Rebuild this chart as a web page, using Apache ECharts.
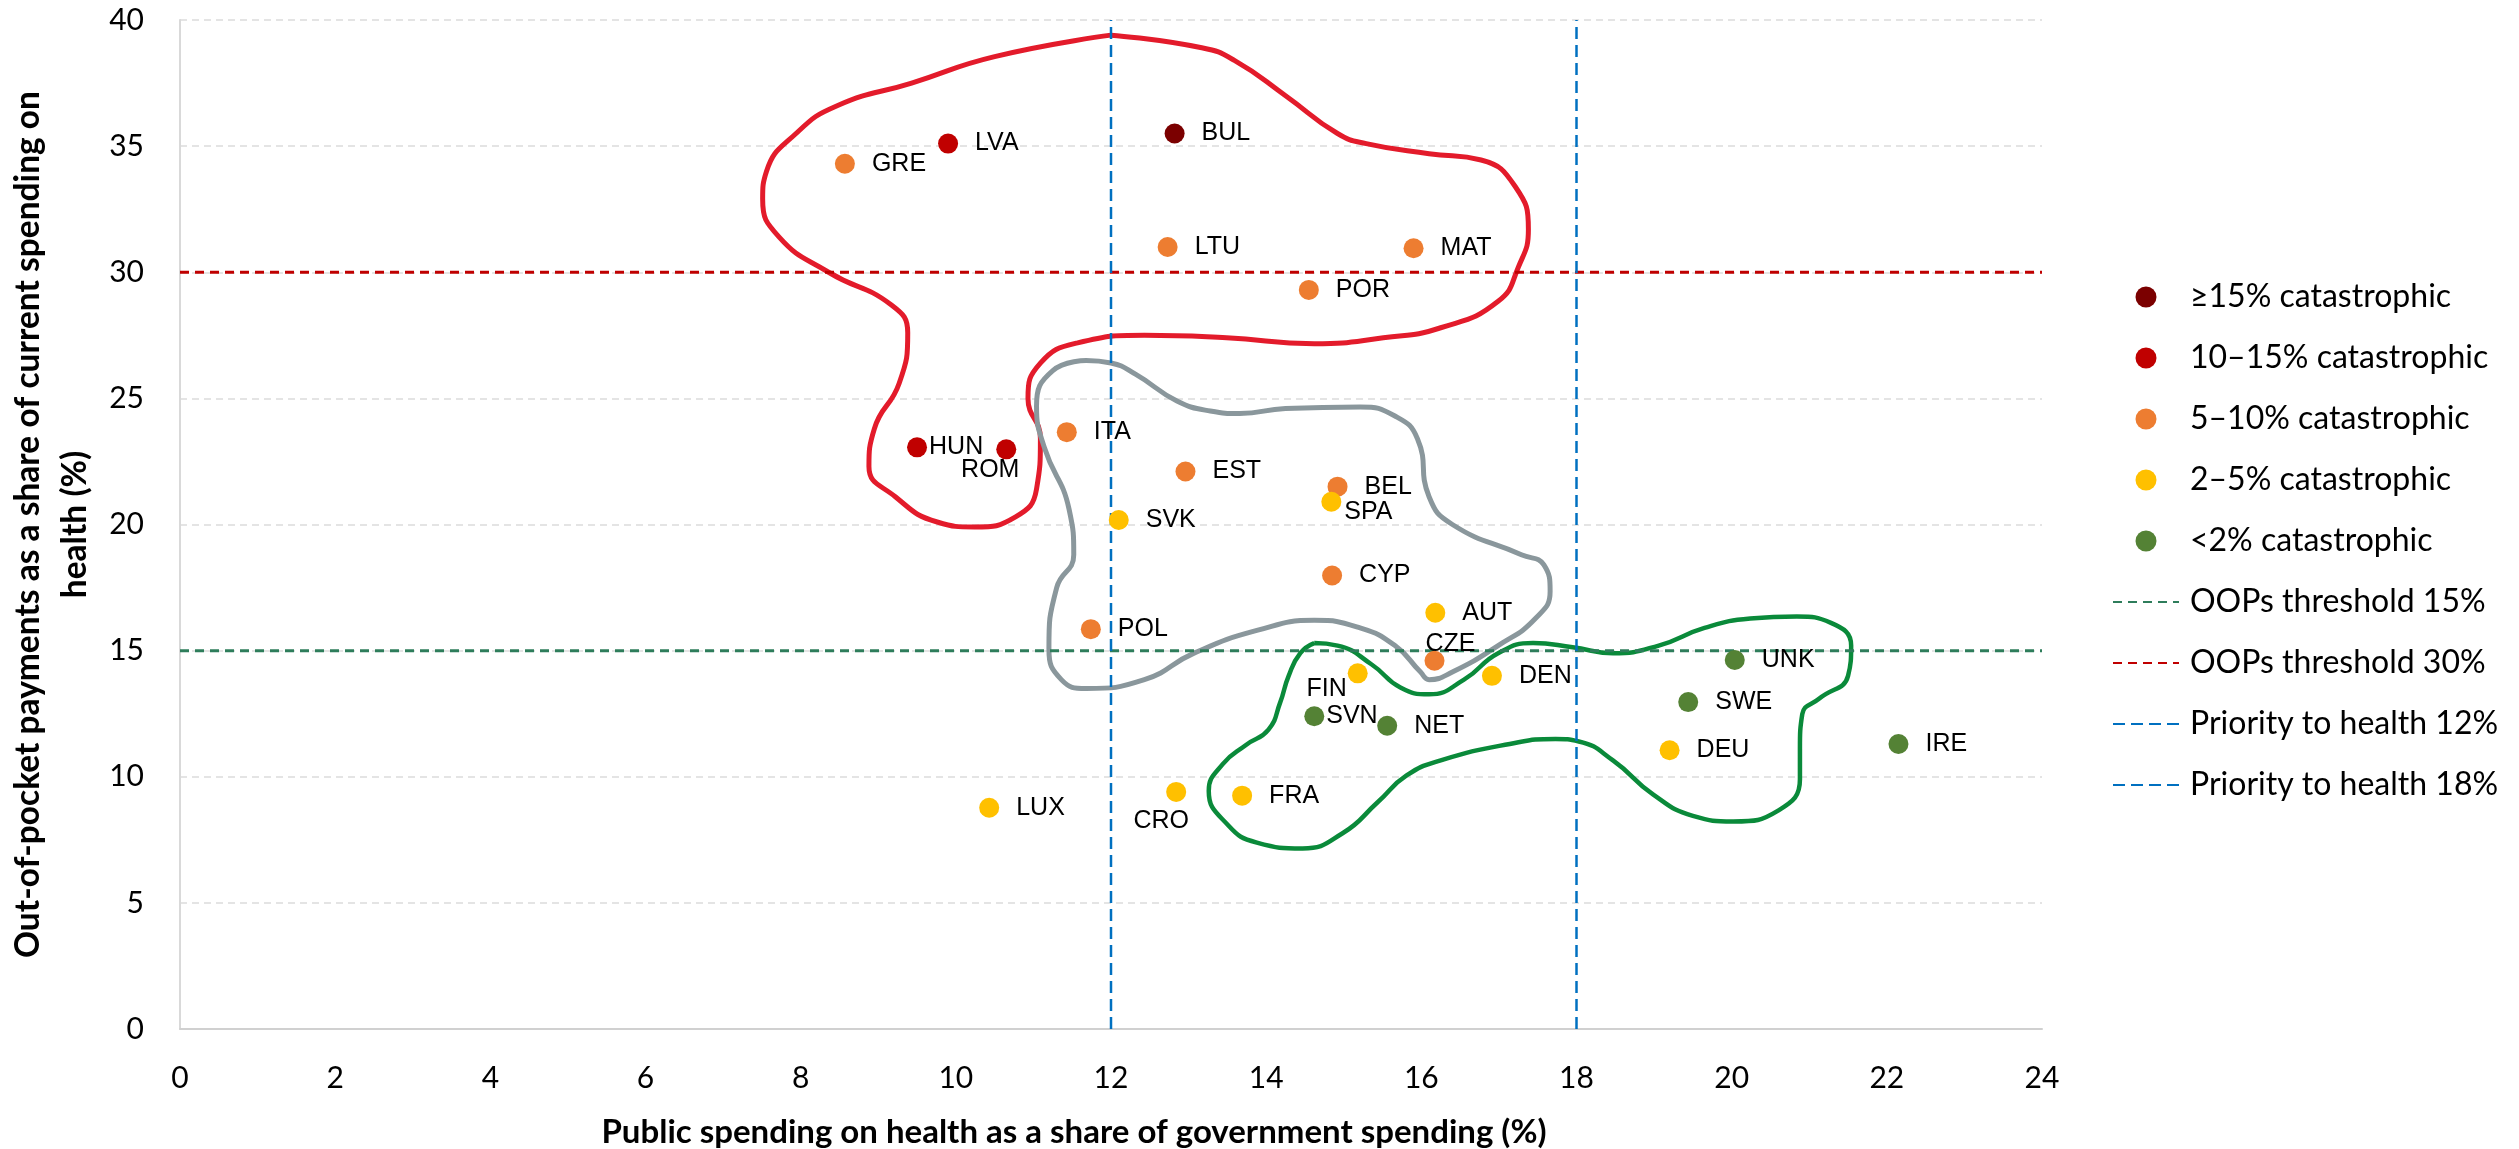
<!DOCTYPE html>
<html>
<head>
<meta charset="utf-8">
<title>OOPs vs public spending on health</title>
<script src="https://cdn.jsdelivr.net/npm/echarts@6/dist/echarts.min.js"></script>
<style>
  html, body { margin: 0; padding: 0; background: #fff; }
  #chart { width: 2519px; height: 1149px; }
</style>
</head>
<body>
<div id="chart"></div>
<script>
// Countries: [code, public spending on health (% of gov. spending), OOPs (% of current health spending)]
// grouped by share of households with catastrophic health spending
const catOver15 = [['BUL', 12.82, 35.5]];
const cat10to15 = [['LVA', 9.9, 35.1], ['HUN', 9.5, 23.06], ['ROM', 10.65, 22.98]];
const cat5to10 = [
  ['GRE', 8.57, 34.3], ['LTU', 12.73, 31.0], ['MAT', 15.9, 30.95], ['POR', 14.55, 29.3],
  ['ITA', 11.43, 23.66], ['EST', 12.96, 22.1], ['BEL', 14.92, 21.5], ['CYP', 14.85, 17.98],
  ['POL', 11.74, 15.85], ['CZE', 16.17, 14.6]
];
const cat2to5 = [
  ['SVK', 12.1, 20.18], ['SPA', 14.84, 20.9], ['AUT', 16.18, 16.5], ['FIN', 15.18, 14.1],
  ['DEN', 16.91, 14.0], ['DEU', 19.2, 11.05], ['LUX', 10.43, 8.77], ['CRO', 12.84, 9.4],
  ['FRA', 13.69, 9.25]
];
const catUnder2 = [
  ['SVN', 14.62, 12.4], ['NET', 15.56, 12.02], ['UNK', 20.04, 14.63], ['SWE', 19.44, 12.96],
  ['IRE', 22.15, 11.3]
];

// Reference lines
const oopsThresholds = [15, 30];
const priorityThresholds = [12, 18];

// Hand-drawn cluster outlines, in axis units [x, y]
const redOutline = [
  [12.0, 39.4], [13.17, 38.9], [13.59, 38.4], [14.25, 37.0], [14.92, 35.5], [15.29, 35.1],
  [16.1, 34.7], [16.77, 34.45], [17.21, 33.4], [17.38, 31.7], [17.25, 30.2], [16.99, 28.85],
  [16.25, 27.8], [15.51, 27.4], [14.62, 27.17], [13.49, 27.4], [12.43, 27.5], [11.57, 27.2],
  [11.09, 26.4], [10.93, 25.0], [11.09, 23.4], [11.04, 21.4], [10.77, 20.3], [10.24, 19.9],
  [9.76, 20.1], [9.22, 21.1], [8.88, 22.3], [8.95, 23.8], [9.27, 25.6], [9.38, 27.6],
  [9.17, 28.7], [8.36, 30.0], [7.72, 31.4], [7.51, 32.9], [7.56, 34.0], [7.94, 35.5],
  [8.47, 36.6], [9.43, 37.5], [10.5, 38.55], [12.0, 39.4]
];
const greyOutline = [
  [11.68, 26.5], [12.0, 26.4], [12.32, 25.95], [12.85, 24.9], [13.28, 24.5], [13.66, 24.4],
  [14.25, 24.6], [15.21, 24.66], [15.66, 24.3], [15.95, 23.4], [16.1, 21.1], [16.4, 20.0],
  [17.29, 18.8], [17.58, 18.4], [17.66, 17.35], [17.47, 16.27], [16.99, 15.2], [16.4, 14.15],
  [16.1, 13.85], [15.99, 14.15], [15.66, 15.2], [15.21, 15.9], [14.62, 16.2], [13.88, 15.8],
  [13.07, 14.9], [12.43, 13.85], [11.68, 13.5], [11.36, 13.85], [11.2, 15.06], [11.3, 17.5],
  [11.52, 18.8], [11.46, 20.6], [11.14, 23.06], [11.04, 24.7], [11.25, 26.1], [11.68, 26.5]
];
const greenOutline = [
  [14.62, 15.3], [14.92, 15.2], [15.36, 14.45], [15.73, 13.54], [16.1, 13.27], [16.55, 13.85],
  [16.99, 14.9], [17.44, 15.3], [17.95, 15.13], [18.47, 14.9], [19.06, 15.2], [19.65, 15.9],
  [20.24, 16.27], [20.84, 16.35], [21.28, 16.1], [21.54, 15.2], [21.5, 14.0], [21.13, 13.1],
  [20.91, 12.48], [20.88, 11.1], [20.88, 9.9], [20.61, 8.68], [20.02, 8.23], [19.5, 8.45],
  [18.99, 9.29], [18.47, 10.65], [18.03, 11.4], [17.73, 11.5], [17.14, 11.3], [16.25, 10.65],
  [15.81, 10.05], [15.44, 9.0], [14.99, 7.77], [14.47, 7.16], [13.88, 7.39], [13.51, 8.08],
  [13.26, 9.44], [13.44, 10.5], [13.74, 11.26], [14.03, 11.87], [14.18, 12.94], [14.29, 14.0],
  [14.44, 14.9], [14.62, 15.3]
];

// Labels that do not sit to the right of their dot
const labelTweaks = {
  ROM: { position: 'inside', offset: [-16, 21] },
  CZE: { position: 'inside', offset: [16, -17] },
  FIN: { position: 'inside', offset: [-31, 16] },
  CRO: { position: 'inside', offset: [-15, 29] },
  SPA: { distance: 3, offset: [0, 10] },
  HUN: { distance: 2 },
  SVN: { distance: 2 }
};

const narrowFont = 'Lato, "Open Sans", sans-serif';
const labelFont = '"Liberation Sans", Arial, sans-serif';

function toItems(rows) {
  return rows.map(([name, x, y]) => {
    const item = { name, value: [x, y] };
    if (labelTweaks[name]) item.label = labelTweaks[name];
    return item;
  });
}

function scatterSeries(name, rows, color) {
  return {
    name,
    type: 'scatter',
    symbol: 'circle',
    symbolSize: 20,
    z: 4,
    itemStyle: { color, opacity: 1 },
    label: {
      show: true,
      position: 'right',
      distance: 17,
      formatter: '{b}',
      color: '#000',
      fontFamily: labelFont,
      fontSize: 25
    },
    data: toItems(rows)
  };
}

function hLine(name, y, color) {
  return {
    name,
    type: 'line',
    symbol: 'none',
    z: 3,
    itemStyle: { color },
    lineStyle: { color, width: 3, type: [9, 6] },
    data: [[0, y], [24, y]]
  };
}

function vLine(name, x, color) {
  return {
    name,
    type: 'line',
    symbol: 'none',
    z: 3,
    itemStyle: { color },
    lineStyle: { color, width: 2.5, type: [12, 6] },
    data: [[x, 0], [x, 40]]
  };
}

function outline(points, color, width) {
  return {
    type: 'line',
    symbol: 'none',
    smooth: 0.5,
    silent: true,
    z: 2,
    lineStyle: { color, width },
    data: points
  };
}

const dotLegend = [
  '≥15% catastrophic', '10–15% catastrophic', '5–10% catastrophic',
  '2–5% catastrophic', '<2% catastrophic'
];
const lineLegend = [
  'OOPs threshold 15%', 'OOPs threshold 30%',
  'Priority to health 12%', 'Priority to health 18%'
];

const chart = echarts.init(document.getElementById('chart'));

chart.setOption({
  animation: false,
  backgroundColor: '#fff',
  grid: {
    left: 180,
    right: 477,
    top: 20,
    bottom: 120,
    containLabel: false,
    outerBoundsMode: 'none'
  },
  legend: {
    // line entries: hide the marker ECharts puts in the middle of the dash
    data: dotLegend.concat(lineLegend.map(name => ({
      name,
      itemStyle: { color: 'transparent', borderWidth: 0, opacity: 0 }
    }))),
    orient: 'vertical',
    left: 2107,
    top: 272,
    itemWidth: 66,
    itemHeight: 21,
    itemGap: 21,
    selectedMode: false,
    textStyle: {
      color: '#000',
      fontFamily: narrowFont,
      fontSize: 32,
      lineHeight: 40,
      padding: [0, 0, 0, 6]
    }
  },
  xAxis: {
    type: 'value',
    min: 0,
    max: 24,
    interval: 2,
    name: 'Public spending on health as a share of government spending (%)',
    nameLocation: 'middle',
    nameGap: 84,
    nameTextStyle: {
      color: '#000',
      fontFamily: narrowFont,
      fontWeight: 'bold',
      fontSize: 33,
      lineHeight: 38,
      padding: [0, 74, 0, 0]
    },
    axisLine: { show: true, onZero: false, lineStyle: { color: '#D0D0D0', width: 2 } },
    axisTick: { show: false },
    axisLabel: { color: '#000', fontFamily: narrowFont, fontSize: 30, margin: 34 },
    splitLine: { show: false }
  },
  yAxis: {
    type: 'value',
    min: 0,
    max: 40,
    interval: 5,
    name: 'Out-of-pocket payments as a share of current spending on\nhealth (%)',
    nameLocation: 'middle',
    nameGap: 73,
    nameTextStyle: {
      color: '#000',
      fontFamily: narrowFont,
      fontWeight: 'bold',
      fontSize: 33.5,
      lineHeight: 47
    },
    axisLine: { show: true, onZero: false, lineStyle: { color: '#D9D9D9', width: 2 } },
    axisTick: { show: false },
    axisLabel: { color: '#000', fontFamily: narrowFont, fontSize: 30, margin: 36 },
    splitLine: { show: true, lineStyle: { color: '#E4E4E4', width: 2, type: [7, 5] } }
  },
  series: [
    outline(redOutline, '#E31B2B', 5),
    outline(greyOutline, '#8A979C', 5),
    outline(greenOutline, '#0A8A3A', 4.5),
    hLine('OOPs threshold 15%', oopsThresholds[0], '#2E7D5B'),
    hLine('OOPs threshold 30%', oopsThresholds[1], '#C00000'),
    vLine('Priority to health 12%', priorityThresholds[0], '#0070C0'),
    vLine('Priority to health 18%', priorityThresholds[1], '#0070C0'),
    scatterSeries('≥15% catastrophic', catOver15, '#7B0000'),
    scatterSeries('10–15% catastrophic', cat10to15, '#C00000'),
    scatterSeries('5–10% catastrophic', cat5to10, '#ED7D31'),
    scatterSeries('2–5% catastrophic', cat2to5, '#FFC000'),
    scatterSeries('<2% catastrophic', catUnder2, '#548235')
  ]
});

window.addEventListener('resize', () => chart.resize());
</script>
</body>
</html>
